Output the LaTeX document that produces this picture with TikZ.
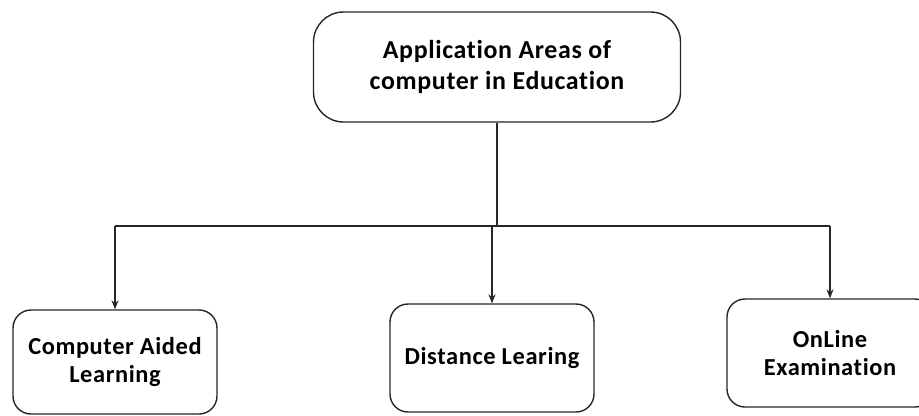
\documentclass[tikz,border=0pt]{standalone}
\usepackage{fontspec}
\setmainfont[Ligatures=NoCommon, LetterSpace=2.5]{Carlito}
\usetikzlibrary{arrows.meta}
\begin{document}
\begin{tikzpicture}[x=1bp,y=-1bp,
  boxstyle/.style={draw=black!85, line width=1.4bp, align=center, inner sep=0pt, font=\bfseries},
  topbox/.style={boxstyle, rounded corners=30bp, minimum width=367bp, minimum height=110bp, font=\fontsize{26}{32}\selectfont\bfseries},
  leafbox/.style={boxstyle, rounded corners=18bp, minimum width=204bp, minimum height=106bp, font=\fontsize{24.5}{28}\selectfont\bfseries},
  conn/.style={draw=black!85, line width=1.1bp},
  arr/.style={conn, -{Stealth[length=9bp,width=7bp]}}]
\useasboundingbox (0,0) rectangle (919,415);
\clip (0,0) rectangle (919,415);
\node[topbox] (top) at (497,67) {Application Areas of\\computer in Education};
\node[leafbox, minimum height=104bp] (cal) at (115,362) {Computer Aided\\Learning};
\node[leafbox, minimum height=108bp] (dl) at (492,358) {Distance Learing};
\node[leafbox, minimum height=108bp, minimum width=206bp] (oe) at (830,353) {OnLine\\Examination};
\coordinate (j) at (497,226);
\draw[conn] (top.south) -- (j);
\draw[conn] (cal.north |- j) -- (oe.north |- j);
\draw[arr] (cal.north |- j) -- (cal.north);
\draw[arr] (dl.north |- j) -- (dl.north);
\draw[arr] (oe.north |- j) -- (oe.north);
\end{tikzpicture}
\end{document}
